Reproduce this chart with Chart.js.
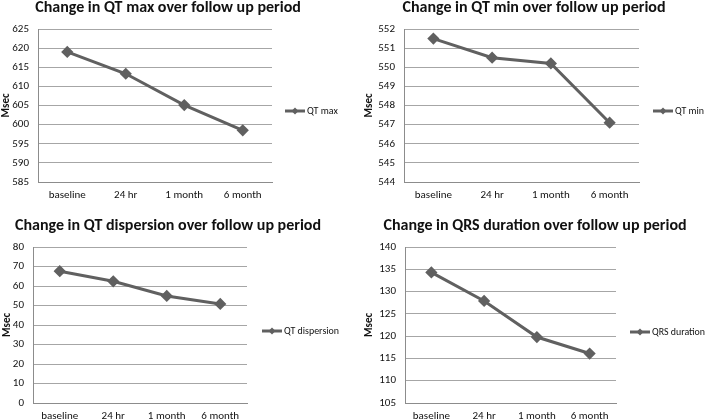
<!DOCTYPE html>
<html><head><meta charset="utf-8">
<script src="https://cdn.jsdelivr.net/npm/chart.js@4.4.0/dist/chart.umd.min.js"></script>
<style>
html,body{margin:0;padding:0;background:#fff;width:707px;height:420px;overflow:hidden}
canvas{position:absolute;display:block}
</style></head><body>
<canvas id="c1" width="354" height="210" style="left:0;top:0"></canvas>
<canvas id="c2" width="353" height="210" style="left:354px;top:0"></canvas>
<canvas id="c3" width="354" height="210" style="left:0;top:210px"></canvas>
<canvas id="c4" width="353" height="210" style="left:354px;top:210px"></canvas>
<script>
const categories = ['baseline', '24 hr', '1 month', '6 month'];
const qtMax = [619.0, 613.3, 605.1, 598.5];
const qtMin = [551.5, 550.5, 550.2, 547.1];
const qtDispersion = [67.6, 62.4, 54.9, 50.8];
const qrsDuration = [134.3, 127.9, 119.8, 116.1];

const qtMaxTicks = {min: 585, max: 625, step: 5};
const qtMinTicks = {min: 544, max: 552, step: 1};
const qtDispTicks = {min: 0, max: 80, step: 10};
const qrsTicks = {min: 105, max: 140, step: 5};

const FONT = "Carlito, Lato, 'Open Sans', sans-serif";
const LINE = '#606060';

const panelPlugin = {
  id: 'panel',
  afterDraw(chart, args, o) {
    const ctx = chart.ctx;
    ctx.save();
    ctx.fillStyle = '#111';
    ctx.textBaseline = 'middle';
    // title
    ctx.font = 'bold 16px ' + FONT;
    ctx.textAlign = 'center';
    ctx.fillText(o.title, o.titleX, o.titleY);
    // y title
    ctx.save();
    ctx.translate(o.msecX, (chart.chartArea.top + chart.chartArea.bottom) / 2);
    ctx.rotate(-Math.PI / 2);
    ctx.font = 'bold 11px ' + FONT;
    ctx.fillText('Msec', 0, 0);
    ctx.restore();
    // legend
    const lx = o.legendX, ly = o.legendY;
    ctx.strokeStyle = LINE;
    ctx.lineWidth = 3;
    ctx.beginPath();
    ctx.moveTo(lx, ly);
    ctx.lineTo(lx + 20, ly);
    ctx.stroke();
    ctx.fillStyle = LINE;
    ctx.beginPath();
    const cx = lx + 10, r = 3.5;
    ctx.moveTo(cx, ly - r); ctx.lineTo(cx + r, ly); ctx.lineTo(cx, ly + r); ctx.lineTo(cx - r, ly);
    ctx.closePath(); ctx.fill();
    ctx.fillStyle = '#111';
    ctx.font = '11px ' + FONT;
    ctx.textAlign = 'left';
    ctx.save();
    ctx.translate(lx + 22, ly);
    const w = ctx.measureText(o.legendText).width;
    ctx.scale(Math.min(1, o.legendW / w), 1);
    ctx.fillText(o.legendText, 0, 0);
    ctx.restore();
    ctx.restore();
  }
};

function makeChart(id, data, label, tk, box, extra) {
  const W = box.W, H = 210, xH = 17;
  new Chart(document.getElementById(id), {
    type: 'line',
    data: {
      labels: categories,
      datasets: [{
        label: label,
        data: data,
        borderColor: LINE,
        backgroundColor: LINE,
        borderWidth: 3,
        pointStyle: 'rectRot',
        pointRadius: 4,
        pointHoverRadius: 4,
        tension: 0,
        fill: false
      }]
    },
    options: {
      responsive: false,
      animation: false,
      events: [],
      layout: {padding: {left: 0, top: box.T, right: W - box.R, bottom: H - box.B - xH}},
      plugins: {
        legend: {display: false},
        title: {display: false},
        tooltip: {enabled: false},
        panel: extra
      },
      scales: {
        x: {
          type: 'category',
          offset: true,
          grid: {display: false, drawTicks: false},
          border: {display: true, color: '#8c8c8c', width: 1},
          ticks: {font: {family: FONT, size: 11}, color: '#111', padding: 7, maxRotation: 0, autoSkip: false},
          afterFit: s => { s.height = xH; }
        },
        y: {
          min: tk.min, max: tk.max,
          grid: {color: '#a6a6a6', drawTicks: false, lineWidth: 1},
          border: {display: true, color: '#8c8c8c', width: 1},
          ticks: {stepSize: tk.step, font: {family: FONT, size: 11}, color: '#111', padding: 9},
          afterFit: s => { s.width = box.L; }
        }
      }
    },
    plugins: [panelPlugin]
  });
}

makeChart('c1', qtMax, 'QT max', qtMaxTicks, {W: 354, L: 38, R: 272, T: 29, B: 182},
  {title: 'Change in QT max over follow up period', titleX: 168, titleY: 8, msecX: 6, legendText: 'QT max', legendW: 31, legendX: 285, legendY: 111});
makeChart('c2', qtMin, 'QT min', qtMinTicks, {W: 353, L: 50, R: 285, T: 29, B: 182},
  {title: 'Change in QT min over follow up period', titleX: 180, titleY: 8, msecX: 15, legendText: 'QT min', legendW: 29, legendX: 299, legendY: 111});
makeChart('c3', qtDispersion, 'QT dispersion', qtDispTicks, {W: 354, L: 33, R: 247, T: 37, B: 193},
  {title: 'Change in QT dispersion over follow up period', titleX: 168, titleY: 16, msecX: 7, legendText: 'QT dispersion', legendW: 55, legendX: 262, legendY: 121});
makeChart('c4', qrsDuration, 'QRS duration', qrsTicks, {W: 353, L: 51, R: 262, T: 37, B: 193},
  {title: 'Change in QRS duration over follow up period', titleX: 181, titleY: 16, msecX: 15, legendText: 'QRS duration', legendW: 53, legendX: 276, legendY: 122});
</script>
</body></html>
